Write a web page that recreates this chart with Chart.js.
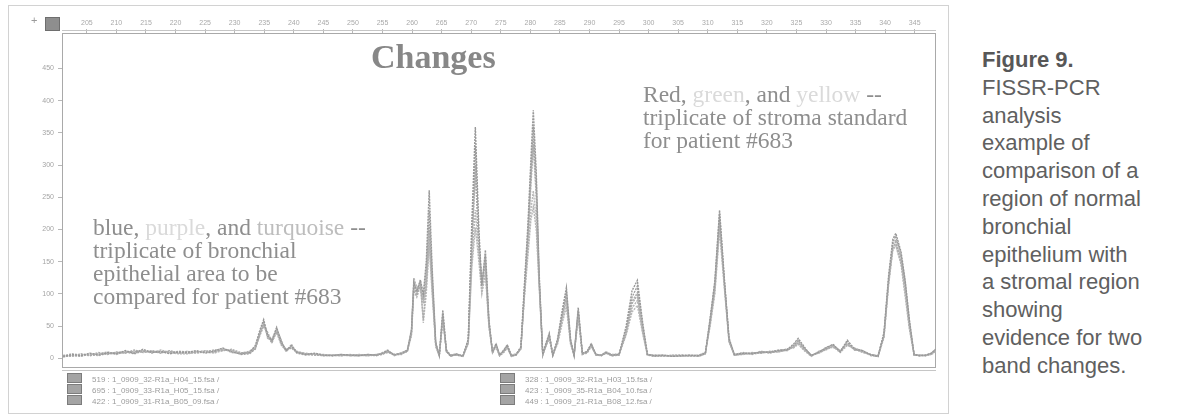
<!DOCTYPE html>
<html>
<head>
<meta charset="utf-8">
<script src="https://cdn.jsdelivr.net/npm/chart.js@4.4.1/dist/chart.umd.min.js"></script>
<style>
  html, body { margin: 0; padding: 0; background: #fff; }
  #wrap { position: relative; width: 1188px; height: 420px; overflow: hidden; background: #fff; }
  #panel { position: absolute; left: 8px; top: 5px; width: 941px; height: 409px; border: 1px solid #d2d2d2; box-sizing: border-box; }
  #plot { position: absolute; left: 0; top: 0; width: 950px; height: 420px; }
  #plus { position: absolute; left: 31px; top: 14px; font: 11px "Liberation Sans", sans-serif; color: #9a9a9a; }
  #ruler-box { position: absolute; left: 45px; top: 17px; width: 13px; height: 12px; background: #8e8e8e; border: 1px solid #6e6e6e; }
  #title { position: absolute; left: 371px; top: 40px; font-family: "Liberation Serif", "Times New Roman", serif; font-weight: bold; font-size: 34px; line-height: 33px; color: #878787; white-space: nowrap; }
  .note { position: absolute; font-family: "Liberation Serif", "Times New Roman", serif; font-size: 23.5px; line-height: 23px; color: #8e8e8e; white-space: nowrap; }
  .faint { color: #dadada; }
  .soft { color: #bdbdbd; }
  #caption { position: absolute; left: 982px; top: 46px; font-family: "Liberation Sans", Arial, sans-serif; font-size: 22px; line-height: 27.8px; color: #606060; white-space: nowrap; }
  #caption b { color: #575757; }
  .leg { position: absolute; font-family: "Liberation Sans", Arial, sans-serif; font-size: 8px; line-height: 11px; color: #9c9c9c; white-space: nowrap; }
  .leg div { height: 11px; }
  .sw { display: inline-block; width: 13px; height: 8px; background: #a4a4a4; border: 1px solid #7c7c7c; vertical-align: -1px; margin-right: 10px; }
</style>
</head>
<body>
<div id="wrap">
  <div id="panel"></div>
  <canvas id="plot" width="950" height="420"></canvas>
  <div id="plus">+</div>
  <div id="ruler-box"></div>
  <div id="title">Changes</div>
  <div class="note" style="left:93px; top:216px;">
    blue, <span class="faint">purple</span>, and <span class="soft">turquoise</span> --<br>
    triplicate of bronchial<br>
    epithelial area to be<br>
    compared for patient #683
  </div>
  <div class="note" style="left:643px; top:83px;">
    Red, <span class="faint">green</span>, and <span class="faint">yellow</span> --<br>
    triplicate of stroma standard<br>
    for patient #683
  </div>
  <div id="caption">
    <b>Figure 9.</b><br>
    FISSR-PCR<br>
    analysis<br>
    example of<br>
    comparison of a<br>
    region of normal<br>
    bronchial<br>
    epithelium with<br>
    a stromal region<br>
    showing<br>
    evidence for two<br>
    band changes.
  </div>
  <div class="leg" id="legLeft" style="left:67px; top:373px;"></div>
  <div class="leg" id="legRight" style="left:500px; top:373px;"></div>
</div>

<script>
// Fragment size (bp) of every sample point, shared by all six traces
const sizes = [
  201, 202.5, 204, 205.5, 207, 208.5, 210, 211.5, 213, 214.5, 216, 217.5, 219, 220.5,
  222, 223.5, 225, 226.5, 228, 229.5, 231, 232.5, 233.5, 234.3, 234.9, 235.6, 236.3, 237.1,
  237.9, 238.7, 239.6, 240.5, 242, 243.5, 245, 246.5, 248, 249.5, 251, 252.5, 254, 255,
  255.9, 257, 258.2, 259.2, 259.9, 260.3, 260.8, 261.4, 261.9, 262.4, 262.9, 263.4, 264, 264.6,
  265.2, 265.8, 266.5, 267.5, 268.6, 269.5, 270.1, 270.7, 271.3, 271.8, 272.4, 273, 273.6, 274.2,
  274.8, 275.5, 276.1, 276.8, 277.6, 278.4, 279, 279.6, 280.1, 280.5, 281, 281.5, 282.1, 282.7,
  283.2, 283.8, 284.6, 285.4, 286.1, 286.8, 287.4, 288.1, 288.8, 289.6, 290.3, 291.1, 292, 292.8,
  293.8, 295, 296.2, 297.2, 298.1, 299, 299.8, 301, 302.5, 304, 305.5, 307, 308.5, 309.6,
  310.4, 311.2, 312, 312.8, 313.6, 314.5, 316, 317.5, 319, 320.5, 322, 323.5, 324.5, 325.3,
  326.3, 327.5, 328.8, 330, 331.2, 332.4, 333.6, 334.8, 336.2, 337.6, 338.8, 339.8, 340.6, 341.3,
  341.8, 342.7, 343.4, 344.1, 344.9, 345.8, 346.8, 347.8, 348.5
];

// Bronchial epithelium triplicate (fluorescence units)
const bronchialA = [
  3, 6, 4, 8, 5, 9, 7, 12, 8, 14, 9, 11, 7, 10,
  9, 12, 8, 11, 16, 10, 7, 9, 20, 45, 60, 35, 28, 48,
  25, 12, 20, 9, 6, 8, 5, 4, 6, 5, 4, 6, 5, 8,
  12, 5, 8, 12, 45, 118, 104, 122, 100, 150, 261, 140, 25, 4,
  75, 12, 4, 6, 3, 30, 210, 359, 200, 112, 168, 60, 10, 23,
  5, 12, 20, 4, 6, 18, 114, 210, 310, 385, 290, 130, 6, 25,
  39, 5, 30, 75, 110, 30, 4, 79, 8, 10, 23, 6, 5, 9,
  5, 6, 50, 105, 121, 55, 6, 4, 5, 3, 4, 5, 4, 8,
  60, 120, 230, 125, 30, 6, 8, 7, 10, 9, 12, 14, 22, 31,
  18, 4, 10, 16, 22, 10, 28, 15, 12, 5, 3, 40, 130, 185,
  194, 165, 120, 60, 6, 4, 5, 8, 14
];
const bronchialB = [
  5, 3, 7, 5, 9, 6, 10, 8, 13, 9, 11, 8, 12, 8,
  11, 8, 10, 13, 12, 14, 9, 8, 16, 38, 52, 40, 25, 42,
  22, 14, 18, 11, 7, 6, 4, 5, 4, 6, 5, 4, 6, 7,
  10, 6, 7, 11, 38, 112, 98, 115, 60, 120, 200, 120, 20, 5,
  62, 10, 5, 7, 4, 25, 170, 290, 170, 120, 150, 55, 8, 18,
  4, 10, 17, 3, 5, 15, 100, 180, 270, 330, 250, 120, 5, 22,
  34, 4, 25, 65, 95, 25, 5, 70, 6, 9, 20, 5, 4, 8,
  4, 5, 40, 85, 98, 45, 5, 5, 4, 4, 5, 4, 3, 7,
  55, 110, 212, 118, 28, 5, 7, 9, 8, 11, 10, 13, 18, 24,
  14, 5, 8, 14, 20, 12, 22, 14, 10, 6, 4, 35, 120, 172,
  180, 150, 110, 50, 5, 5, 4, 7, 12
];
const bronchialC = [
  4, 7, 5, 6, 7, 10, 6, 11, 9, 12, 8, 13, 9, 7,
  7, 10, 12, 9, 14, 11, 8, 10, 18, 42, 56, 30, 30, 45,
  28, 10, 22, 8, 5, 7, 6, 5, 5, 4, 6, 5, 4, 9,
  13, 4, 9, 10, 42, 125, 110, 108, 90, 110, 182, 105, 22, 4,
  58, 14, 4, 5, 3, 22, 140, 203, 150, 100, 132, 50, 12, 20,
  6, 11, 18, 5, 7, 16, 95, 160, 215, 235, 200, 110, 7, 20,
  30, 6, 22, 55, 80, 22, 6, 62, 7, 8, 18, 6, 5, 10,
  6, 7, 38, 78, 90, 40, 6, 4, 3, 5, 4, 3, 5, 9,
  50, 100, 198, 110, 25, 6, 9, 6, 9, 10, 11, 15, 16, 22,
  12, 3, 11, 15, 18, 9, 20, 16, 11, 4, 3, 32, 115, 168,
  175, 145, 95, 45, 6, 4, 5, 6, 10
];

// Stroma standard triplicate (fluorescence units)
const stromaA = [
  2, 5, 6, 4, 7, 8, 9, 10, 7, 11, 10, 9, 10, 9,
  8, 9, 11, 10, 13, 12, 6, 7, 15, 40, 55, 34, 24, 44,
  24, 13, 17, 10, 6, 5, 5, 4, 5, 5, 5, 5, 5, 6,
  11, 6, 8, 13, 40, 115, 100, 120, 95, 140, 230, 130, 24, 5,
  70, 11, 3, 6, 4, 28, 190, 330, 185, 115, 160, 58, 9, 21,
  5, 13, 21, 4, 5, 17, 110, 200, 295, 360, 275, 125, 5, 24,
  37, 5, 28, 70, 104, 28, 4, 75, 7, 11, 22, 5, 5, 9,
  5, 5, 45, 95, 112, 52, 5, 3, 4, 4, 5, 4, 4, 8,
  62, 118, 225, 122, 32, 5, 7, 8, 9, 10, 13, 12, 20, 28,
  16, 5, 9, 17, 21, 11, 26, 13, 12, 5, 4, 38, 126, 180,
  190, 160, 118, 58, 5, 5, 4, 8, 13
];
const stromaB = [
  4, 4, 3, 7, 6, 7, 8, 9, 11, 10, 12, 10, 8, 11,
  10, 11, 9, 12, 15, 9, 8, 11, 17, 36, 50, 38, 27, 40,
  20, 12, 16, 9, 8, 6, 4, 5, 6, 4, 4, 6, 5, 7,
  9, 5, 6, 12, 35, 105, 95, 112, 85, 125, 205, 115, 18, 4,
  66, 12, 4, 7, 3, 26, 175, 300, 175, 118, 145, 52, 11, 19,
  4, 9, 16, 3, 6, 14, 105, 190, 280, 340, 260, 118, 6, 21,
  35, 4, 26, 68, 98, 26, 5, 72, 6, 9, 21, 6, 4, 8,
  4, 6, 42, 88, 102, 48, 6, 4, 5, 3, 3, 5, 4, 7,
  58, 112, 215, 120, 29, 6, 8, 7, 11, 8, 12, 14, 19, 26,
  15, 4, 10, 13, 19, 10, 24, 15, 9, 6, 3, 36, 122, 176,
  184, 155, 112, 52, 6, 4, 5, 7, 11
];
const stromaC = [
  3, 5, 5, 6, 4, 8, 7, 9, 10, 12, 9, 10, 11, 8,
  9, 10, 10, 8, 12, 13, 7, 9, 14, 41, 58, 32, 26, 47,
  26, 11, 19, 10, 6, 7, 5, 5, 4, 5, 5, 4, 6, 8,
  12, 5, 8, 11, 44, 120, 108, 118, 55, 100, 175, 100, 20, 5,
  60, 13, 5, 6, 4, 24, 150, 230, 160, 105, 135, 48, 10, 22,
  5, 12, 19, 4, 6, 16, 98, 170, 230, 260, 215, 112, 6, 23,
  32, 5, 24, 60, 88, 24, 5, 66, 8, 10, 19, 5, 5, 10,
  5, 6, 36, 72, 82, 38, 5, 5, 4, 5, 4, 4, 5, 9,
  52, 104, 205, 112, 26, 5, 6, 8, 9, 9, 10, 13, 17, 23,
  13, 4, 9, 15, 17, 12, 21, 14, 11, 5, 4, 33, 118, 170,
  176, 148, 100, 48, 5, 5, 4, 6, 12
];

// Sample file names shown in the legend
const bronchialFiles = [
  "519 : 1_0909_32-R1a_H04_15.fsa /",
  "695 : 1_0909_33-R1a_H05_15.fsa /",
  "422 : 1_0909_31-R1a_B05_09.fsa /"
];
const stromaFiles = [
  "328 : 1_0909_32-R1a_H03_15.fsa /",
  "423 : 1_0909_35-R1a_B04_10.fsa /",
  "449 : 1_0909_21-R1a_B08_12.fsa /"
];

// Axis tick labels
const sizeTicks = [205, 210, 215, 220, 225, 230, 235, 240, 245, 250, 255, 260, 265, 270, 275,
                   280, 285, 290, 295, 300, 305, 310, 315, 320, 325, 330, 335, 340, 345];
const unitTicks = [0, 50, 100, 150, 200, 250, 300, 350, 400, 450];

const traces = [bronchialA, bronchialB, bronchialC, stromaA, stromaB, stromaC];
const traceNames = bronchialFiles.concat(stromaFiles);
const traceColors = ['#989898', '#acacac', '#b6b6b6', '#a0a0a0', '#b0b0b0', '#bababa'];

function fillLegend(id, names) {
  const box = document.getElementById(id);
  names.forEach(n => {
    const row = document.createElement('div');
    const sw = document.createElement('span');
    sw.className = 'sw';
    row.appendChild(sw);
    row.appendChild(document.createTextNode(n));
    box.appendChild(row);
  });
}
fillLegend('legLeft', bronchialFiles);
fillLegend('legRight', stromaFiles);

// Plot frame with the double rules under the size ruler and along the baseline
const framePlugin = {
  id: 'frame',
  beforeDatasetsDraw(chart) {
    const { ctx, chartArea: a } = chart;
    ctx.save();
    ctx.strokeStyle = '#a9a9a9';
    ctx.lineWidth = 1;
    ctx.strokeRect(a.left + 0.5, a.top + 0.5, a.right - a.left - 1, a.bottom - a.top - 1);
    ctx.strokeStyle = '#c6c6c6';
    ctx.beginPath();
    ctx.moveTo(a.left, a.top - 2.5); ctx.lineTo(a.right, a.top - 2.5);
    ctx.moveTo(a.left, a.bottom + 2.5); ctx.lineTo(a.right, a.bottom + 2.5);
    ctx.stroke();
    ctx.restore();
  }
};

new Chart(document.getElementById('plot'), {
  type: 'line',
  data: {
    datasets: traces.map((t, k) => ({
      label: traceNames[k],
      data: sizes.map((s, i) => ({ x: s, y: t[i] })),
      borderColor: traceColors[k],
      borderWidth: 1.4,
      borderDash: [2, 1],
      pointRadius: 0,
      tension: 0,
      fill: false
    }))
  },
  options: {
    responsive: false,
    animation: false,
    events: [],
    layout: { padding: { left: 38, top: 15, right: 14, bottom: 52 } },
    plugins: { legend: { display: false }, title: { display: false }, tooltip: { enabled: false } },
    scales: {
      x: {
        type: 'linear',
        position: 'top',
        min: 200.8,
        max: 348.6,
        afterFit(scale) { scale.height = 18; },
        afterBuildTicks(scale) { scale.ticks = sizeTicks.map(v => ({ value: v })); },
        ticks: {
          autoSkip: false,
          maxRotation: 0,
          padding: 2,
          color: '#a9a9a9',
          font: { family: 'Liberation Sans', size: 7 },
          callback: v => String(v)
        },
        grid: { drawOnChartArea: false, drawTicks: true, tickLength: 4, color: '#b8b8b8' },
        border: { display: false }
      },
      y: {
        min: -15,
        max: 505,
        afterFit(scale) { scale.width = 24; },
        afterBuildTicks(scale) { scale.ticks = unitTicks.map(v => ({ value: v })); },
        ticks: {
          padding: 4,
          color: '#a4a4a4',
          font: { family: 'Liberation Sans', size: 7 },
          callback: v => String(v)
        },
        grid: { drawOnChartArea: false, drawTicks: true, tickLength: 4, color: '#b8b8b8' },
        border: { display: false }
      }
    }
  },
  plugins: [framePlugin]
});
</script>
</body>
</html>
